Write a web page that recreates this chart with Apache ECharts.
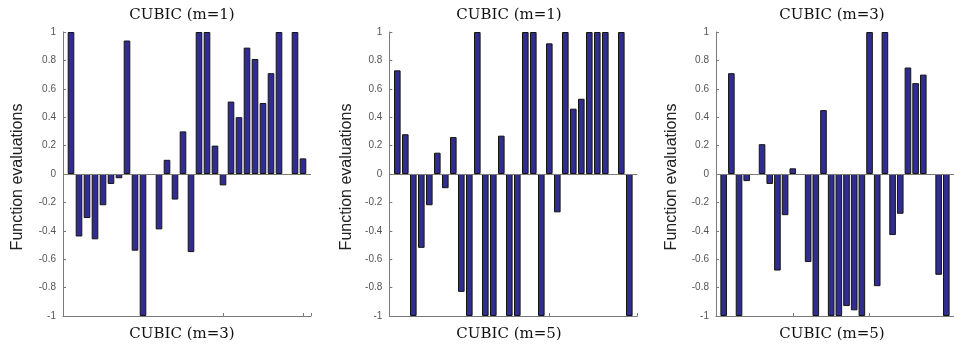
<!DOCTYPE html>
<html>
<head>
<meta charset="utf-8">
<script src="https://cdn.jsdelivr.net/npm/echarts@6/dist/echarts.min.js"></script>
<style>
html,body{margin:0;padding:0;background:#fff;}
#c{width:954px;height:345px;}
</style>
</head>
<body>
<div id="c"></div>
<script>
// Bar positions (x index of each bar)
const barIndex = [1,2,3,4,5,6,7,8,9,10,11,12,13,14,15,16,17,18,19,20,21,22,23,24,25,26,27,28,29,30];

// Panel values (clipped to [-1, 1] as in the picture); null = no bar drawn
const panel1Values = [1,-0.44,-0.31,-0.46,-0.22,-0.07,-0.03,0.94,-0.54,-1,null,-0.39,0.10,-0.18,0.30,-0.55,1,1,0.20,-0.08,0.51,0.40,0.89,0.81,0.50,0.71,1,null,1,0.11];
const panel2Values = [0.73,0.28,-1,-0.52,-0.22,0.15,-0.10,0.26,-0.83,-1,1,-1,-1,0.27,-1,-1,1,1,-1,0.92,-0.27,1,0.46,0.53,1,1,1,null,1,-1];
const panel3Values = [-1,0.71,-1,-0.05,null,0.21,-0.07,-0.68,-0.29,0.04,null,-0.62,-1,0.45,-1,-1,-0.93,-0.96,-1,1,-0.79,1,-0.43,-0.28,0.75,0.64,0.70,null,-0.71,-1];

const topTitles = ['CUBIC (m=1)', 'CUBIC (m=1)', 'CUBIC (m=3)'];
const bottomTitles = ['CUBIC (m=3)', 'CUBIC (m=5)', 'CUBIC (m=5)'];
const yAxisName = 'Function evaluations';
const yTicks = { min: -1, max: 1, interval: 0.2 };
const xTicks = { min: 0, max: 31, interval: 10 };

const panels = [panel1Values, panel2Values, panel3Values];
const gridLefts = [63, 389.3, 716];
const titleCenters = [182, 509, 832];
const yNameCenters = [18, 346.5, 672];

const axisGray = '#7a7a7a';
const grids = [], xAxes = [], yAxes = [], series = [], graphics = [];

panels.forEach((vals, i) => {
  grids.push({ left: gridLefts[i], top: 32, width: 248, height: 284, containLabel: false });
  xAxes.push({
    type: 'value', gridIndex: i, min: xTicks.min, max: xTicks.max, interval: xTicks.interval,
    axisLine: { show: true, onZero: false, lineStyle: { color: axisGray, width: 1 } },
    axisTick: { show: true, inside: true, length: 3, lineStyle: { color: axisGray } },
    axisLabel: { show: false }, splitLine: { show: false }
  });
  yAxes.push({
    type: 'value', gridIndex: i, min: yTicks.min, max: yTicks.max, interval: yTicks.interval,
    axisLine: { show: true, onZero: false, lineStyle: { color: axisGray, width: 1 } },
    axisTick: { show: true, inside: true, length: 3, lineStyle: { color: axisGray } },
    axisLabel: { show: true, color: '#555', fontSize: 10, fontFamily: 'Liberation Sans', margin: 7,
      formatter: v => String(Math.round(v * 10) / 10) },
    splitLine: { show: false }
  });
  series.push({
    type: 'bar', xAxisIndex: i, yAxisIndex: i,
    barWidth: 6.6,
    data: barIndex.map((x, k) => [x, vals[k] === null ? '-' : vals[k]]),
    itemStyle: { color: '#312d8e', borderColor: '#141414', borderWidth: 1 },
    markLine: {
      silent: true, symbol: 'none', animation: false,
      label: { show: false },
      lineStyle: { color: axisGray, width: 1, type: 'solid' },
      data: [{ yAxis: 0 }]
    },
    animation: false
  });
  graphics.push({
    type: 'text', x: titleCenters[i], y: 15,
    style: { text: topTitles[i], font: '15px "DejaVu Serif"', fill: '#111', textAlign: 'center', textVerticalAlign: 'middle' }
  });
  graphics.push({
    type: 'text', x: titleCenters[i], y: 334,
    style: { text: bottomTitles[i], font: '15px "DejaVu Serif"', fill: '#111', textAlign: 'center', textVerticalAlign: 'middle' }
  });
  graphics.push({
    type: 'text', x: yNameCenters[i], y: 177, rotation: Math.PI / 2,
    style: { text: yAxisName, font: '16px "Liberation Sans"', fill: '#222', textAlign: 'center', textVerticalAlign: 'middle' }
  });
});

const chart = echarts.init(document.getElementById('c'), null, { renderer: 'canvas' });
chart.setOption({
  animation: false,
  backgroundColor: '#fff',
  grid: grids, xAxis: xAxes, yAxis: yAxes, series: series, graphic: graphics
});
</script>
</body>
</html>
